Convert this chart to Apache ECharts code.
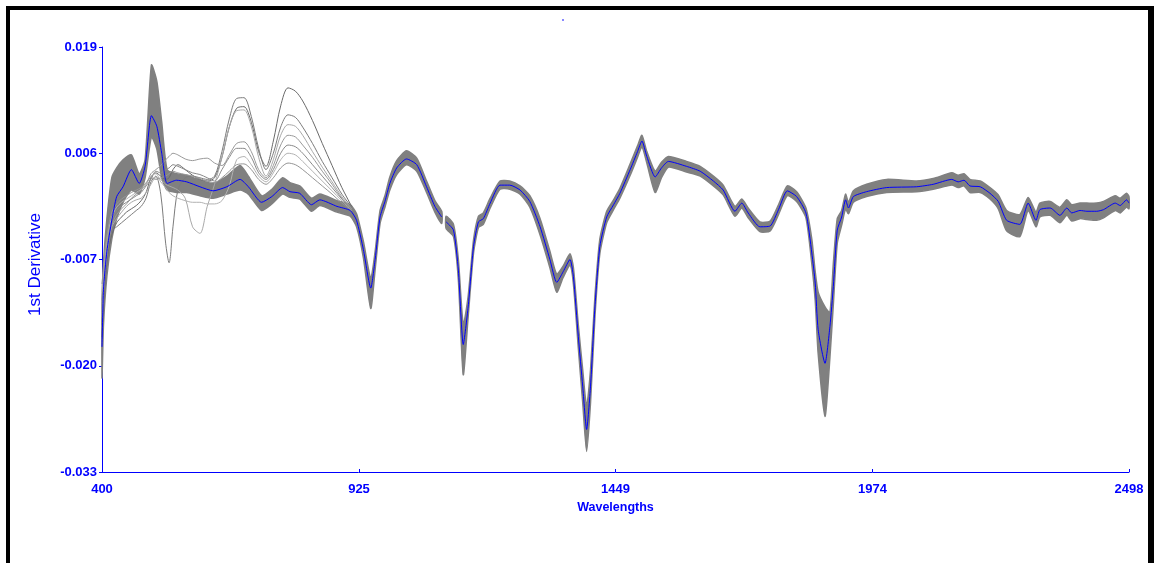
<!DOCTYPE html>
<html>
<head>
<meta charset="utf-8">
<script src="https://cdn.jsdelivr.net/npm/echarts@6/dist/echarts.min.js"></script>
<style>
html,body{margin:0;padding:0;background:#fff;}
#chart{width:1154px;height:563px;}
</style>
</head>
<body>
<div id="chart"></div>
<script>
// ---- data ----
const wavelengths = [
  400, 403, 410, 420, 430, 443, 460, 476, 488, 501,
  512, 522, 533, 552, 573, 600, 627, 655, 682, 699,
  726, 747, 769, 784, 804, 828, 845, 880, 907, 920,
  934, 949, 958, 968, 978, 988, 1002, 1022, 1043, 1063,
  1080, 1094, 1098, 1103, 1118, 1128, 1138, 1148, 1159, 1169,
  1179, 1193, 1213, 1233, 1254, 1274, 1295, 1315, 1329, 1342,
  1356, 1363, 1373, 1382, 1390, 1398, 1407, 1417, 1431, 1445,
  1458, 1479, 1494, 1503, 1513, 1530, 1543, 1557, 1594, 1622,
  1649, 1669, 1693, 1707, 1720, 1744, 1765, 1782, 1800, 1819,
  1838, 1850, 1857, 1863, 1877, 1887, 1894, 1902, 1911, 1919,
  1925, 1935, 1962, 2003, 2064, 2098, 2136, 2149, 2161, 2173,
  2194, 2214, 2231, 2248, 2275, 2292, 2308, 2316, 2337, 2357,
  2371, 2381, 2398, 2412, 2432, 2446, 2470, 2480, 2493, 2498
];
const meanSpectrum = [
  -0.0177, -0.0107, -0.0060, -0.0022, 0.0007, 0.0019, 0.0040, 0.0023, 0.0044, 0.0106,
  0.0093, 0.0060, 0.0023, 0.0027, 0.0025, 0.0019, 0.0014, 0.0019, 0.0028, 0.0019,
  0.0000, 0.0007, 0.0018, 0.0013, 0.0011, -0.0003, 0.0003, -0.0005, -0.0010, -0.0022,
  -0.0058, -0.0105, -0.0070, -0.0018, 0.0001, 0.0023, 0.0042, 0.0053, 0.0046, 0.0019,
  -0.0005, -0.0018, null, -0.0024, -0.0034, -0.0083, -0.0174, -0.0128, -0.0054, -0.0024,
  -0.0020, -0.0001, 0.0021, 0.0021, 0.0015, 0.0001, -0.0030, -0.0070, -0.0098, -0.0085,
  -0.0070, -0.0091, -0.0164, -0.0225, -0.0278, -0.0225, -0.0128, -0.0054, -0.0018, -0.0003,
  0.0011, 0.0040, 0.0062, 0.0075, 0.0056, 0.0031, 0.0042, 0.0050, 0.0044, 0.0038,
  0.0026, 0.0015, -0.0011, -0.0001, -0.0013, -0.0030, -0.0029, -0.0009, 0.0014, 0.0007,
  -0.0013, -0.0062, -0.0099, -0.0156, -0.0197, -0.0152, -0.0103, -0.0034, -0.0018, 0.0003,
  -0.0007, 0.0007, 0.0013, 0.0018, 0.0019, 0.0022, 0.0028, 0.0025, 0.0027, 0.0020,
  0.0019, 0.0011, 0.0001, -0.0022, -0.0027, -0.0001, -0.0022, -0.0009, -0.0007, -0.0016,
  -0.0007, -0.0013, -0.0010, -0.0011, -0.0011, -0.0009, -0.0001, -0.0004, 0.0003, -0.0001
];
const upperEnvelope = [
  -0.0125, -0.0075, -0.0020, 0.0030, 0.0042, 0.0052, 0.0058, 0.0035, 0.0052, 0.0168,
  0.0148, 0.0098, 0.0040, 0.0035, 0.0033, 0.0027, 0.0023, 0.0032, 0.0045, 0.0032,
  0.0008, 0.0016, 0.0030, 0.0024, 0.0020, 0.0005, 0.0010, 0.0002, -0.0003, -0.0014,
  -0.0048, -0.0093, -0.0060, -0.0010, 0.0008, 0.0031, 0.0051, 0.0063, 0.0054, 0.0026,
  0.0002, -0.0011, null, -0.0017, -0.0027, -0.0070, -0.0150, -0.0115, -0.0046, -0.0017,
  -0.0013, 0.0005, 0.0026, 0.0026, 0.0020, 0.0008, -0.0020, -0.0060, -0.0088, -0.0078,
  -0.0063, -0.0080, -0.0150, -0.0205, -0.0250, -0.0205, -0.0115, -0.0045, -0.0011, 0.0003,
  0.0017, 0.0047, 0.0069, 0.0082, 0.0062, 0.0038, 0.0049, 0.0056, 0.0050, 0.0044,
  0.0032, 0.0021, -0.0005, 0.0004, -0.0007, -0.0024, -0.0023, -0.0003, 0.0020, 0.0013,
  -0.0007, -0.0045, -0.0085, -0.0110, -0.0128, -0.0135, -0.0075, -0.0020, -0.0010, 0.0010,
  0.0000, 0.0014, 0.0022, 0.0028, 0.0026, 0.0029, 0.0036, 0.0033, 0.0035, 0.0028,
  0.0026, 0.0018, 0.0009, -0.0010, -0.0015, 0.0006, -0.0012, -0.0001, 0.0001, -0.0006,
  0.0003, -0.0003, -0.0001, -0.0001, -0.0001, 0.0001, 0.0008, 0.0005, 0.0011, 0.0007
];
const lowerEnvelope = [
  -0.0215, -0.0150, -0.0090, -0.0045, -0.0020, 0.0000, 0.0015, 0.0010, 0.0030, 0.0080,
  0.0065, 0.0030, 0.0015, 0.0012, 0.0012, 0.0008, 0.0005, 0.0010, 0.0015, 0.0010,
  -0.0010, -0.0002, 0.0010, 0.0006, 0.0004, -0.0011, -0.0004, -0.0012, -0.0017, -0.0030,
  -0.0068, -0.0130, -0.0082, -0.0026, -0.0006, 0.0015, 0.0034, 0.0046, 0.0038, 0.0012,
  -0.0012, -0.0026, null, -0.0032, -0.0042, -0.0095, -0.0211, -0.0140, -0.0062, -0.0031,
  -0.0027, -0.0007, 0.0016, 0.0016, 0.0010, -0.0006, -0.0040, -0.0080, -0.0110, -0.0092,
  -0.0077, -0.0100, -0.0178, -0.0245, -0.0305, -0.0245, -0.0140, -0.0063, -0.0025, -0.0009,
  0.0005, 0.0033, 0.0055, 0.0068, 0.0048, 0.0012, 0.0030, 0.0043, 0.0037, 0.0032,
  0.0020, 0.0009, -0.0017, -0.0007, -0.0019, -0.0036, -0.0035, -0.0015, 0.0008, 0.0001,
  -0.0019, -0.0075, -0.0120, -0.0185, -0.0262, -0.0190, -0.0125, -0.0050, -0.0028, -0.0008,
  -0.0014, 0.0000, 0.0007, 0.0012, 0.0013, 0.0016, 0.0021, 0.0018, 0.0020, 0.0012,
  0.0012, 0.0004, -0.0008, -0.0035, -0.0042, -0.0010, -0.0030, -0.0018, -0.0016, -0.0025,
  -0.0016, -0.0023, -0.0020, -0.0021, -0.0022, -0.0019, -0.0010, -0.0013, -0.0006, -0.0008
];

// divergent spectra in the visible range
const outlierWavelengths = [
  400, 406, 413, 420, 430, 440, 450, 460, 470, 480,
  490, 500, 510, 520, 530, 537, 545, 555, 570, 585,
  600, 615, 630, 645, 660, 675, 690, 705, 720, 735,
  750, 765, 780, 795, 810, 830, 850, 870, 890, 910
];
const outlier1 = [
  -0.0165, -0.0100, -0.0060, -0.0040, -0.0025, -0.0018, -0.0012, -0.0008, -0.0004, 0.0002,
  0.0012, 0.0030, 0.0036, 0.0032, 0.0028, 0.0030, 0.0040, 0.0046, 0.0040, 0.0033,
  0.0028, 0.0026, 0.0030, 0.0055, 0.0092, 0.0115, 0.0117, 0.0098, 0.0062, 0.0044,
  0.0075, 0.0118, 0.0140, 0.0136, 0.0124, 0.0100, 0.0072, 0.0045, 0.0018, -0.0005
];
const outlier2 = [
  -0.0150, -0.0090, -0.0055, -0.0035, -0.0030, -0.0025, -0.0020, -0.0015, -0.0010, -0.0005,
  0.0005, 0.0025, 0.0032, 0.0010, -0.0050, -0.0074, -0.0030, 0.0015, 0.0030, 0.0032,
  0.0030, 0.0028, 0.0032, 0.0062, 0.0102, 0.0127, 0.0128, 0.0105, 0.0066, 0.0040,
  0.0060, 0.0092, 0.0107, 0.0104, 0.0092, 0.0072, 0.0050, 0.0030, 0.0010, -0.0006
];
const outlier3 = [
  -0.0140, -0.0085, -0.0050, -0.0030, -0.0020, -0.0012, -0.0005, 0.0000, 0.0003, 0.0005,
  0.0012, 0.0022, 0.0030, 0.0028, 0.0022, 0.0020, 0.0018, 0.0015, 0.0005, -0.0030,
  -0.0038, -0.0005, 0.0022, 0.0055, 0.0092, 0.0112, 0.0113, 0.0093, 0.0055, 0.0032,
  0.0052, 0.0082, 0.0095, 0.0093, 0.0082, 0.0062, 0.0043, 0.0025, 0.0007, -0.0008
];
const outlier4 = [
  -0.0130, -0.0075, -0.0045, -0.0028, -0.0015, -0.0008, -0.0002, 0.0005, 0.0010, 0.0015,
  0.0022, 0.0035, 0.0040, 0.0045, 0.0052, 0.0056, 0.0060, 0.0058, 0.0053, 0.0051,
  0.0053, 0.0054, 0.0048, 0.0045, 0.0058, 0.0072, 0.0074, 0.0062, 0.0040, 0.0030,
  0.0045, 0.0070, 0.0082, 0.0080, 0.0070, 0.0055, 0.0038, 0.0022, 0.0005, -0.0008
];
const outlier5 = [
  -0.0120, -0.0070, -0.0040, -0.0022, -0.0010, -0.0004, 0.0000, 0.0004, 0.0008, 0.0012,
  0.0020, 0.0028, 0.0038, 0.0036, 0.0040, 0.0042, 0.0046, 0.0044, 0.0040, 0.0036,
  0.0034, 0.0030, 0.0026, 0.0040, 0.0055, 0.0066, 0.0066, 0.0055, 0.0036, 0.0028,
  0.0040, 0.0060, 0.0070, 0.0068, 0.0060, 0.0046, 0.0032, 0.0018, 0.0004, -0.0009
];
const outlier6 = [
  -0.0110, -0.0065, -0.0035, -0.0018, -0.0006, 0.0000, 0.0004, 0.0008, 0.0012, 0.0016,
  0.0022, 0.0032, 0.0035, 0.0025, 0.0018, 0.0012, 0.0008, 0.0005, 0.0002, 0.0000,
  0.0000, -0.0002, -0.0002, 0.0002, 0.0020, 0.0052, 0.0056, 0.0046, 0.0032, 0.0025,
  0.0036, 0.0052, 0.0060, 0.0058, 0.0050, 0.0038, 0.0026, 0.0014, 0.0002, -0.0010
];
const outlier7 = [
  -0.0100, -0.0060, -0.0030, -0.0012, -0.0002, 0.0004, 0.0008, 0.0012, 0.0015, 0.0018,
  0.0024, 0.0030, 0.0028, 0.0030, 0.0032, 0.0035, 0.0038, 0.0036, 0.0034, 0.0032,
  0.0029, 0.0026, 0.0024, 0.0030, 0.0038, 0.0046, 0.0047, 0.0040, 0.0028, 0.0022,
  0.0030, 0.0042, 0.0048, 0.0046, 0.0040, 0.0030, 0.0020, 0.0010, -0.0001, -0.0010
];
const outlierColors = ['#6a6a6a', '#7c7c7c', '#a9a9a9', '#9a9a9a', '#8a8a8a', '#b2b2b2', '#959595'];

const xTicks = [400, 925, 1449, 1974, 2498];
const yTicks = [-0.033, -0.020, -0.007, 0.006, 0.019];

// ---- build series ----
const BLUE = '#0000ff';
const GRAY = '#808080';
const pairs = (xs, ys) => xs.map((x, i) => [x, ys[i] == null ? null : ys[i]]);

// split the envelope into continuous segments (there is a detector gap near 1100 nm)
const bandSegments = [];
let cur = [];
wavelengths.forEach((w, i) => {
  if (upperEnvelope[i] == null || lowerEnvelope[i] == null) {
    if (cur.length) bandSegments.push(cur);
    cur = [];
  } else cur.push(i);
});
if (cur.length) bandSegments.push(cur);

const series = [];
series.push({
  name: 'spread', type: 'custom', coordinateSystem: 'cartesian2d', silent: true, z: 2,
  data: bandSegments.map(seg => [wavelengths[seg[0]], meanSpectrum[seg[0]]]),
  renderItem: (params, api) => {
    const seg = bandSegments[params.dataIndex];
    const top = seg.map(i => api.coord([wavelengths[i], upperEnvelope[i]]));
    const bot = seg.slice().reverse().map(i => api.coord([wavelengths[i], lowerEnvelope[i]]));
    return {
      type: 'polygon',
      shape: { points: top.concat(bot), smooth: 0.2 },
      style: { fill: GRAY, stroke: GRAY, lineWidth: 1.5 }
    };
  }
});
[outlier1, outlier2, outlier3, outlier4, outlier5, outlier6, outlier7].forEach((arr, k) => {
  series.push({
    name: 'outlier' + (k + 1), type: 'line', data: pairs(outlierWavelengths, arr),
    symbol: 'none', smooth: 0.3, lineStyle: { color: outlierColors[k], width: 1 },
    silent: true, z: 3
  });
});
series.push({
  name: 'mean', type: 'line', data: pairs(wavelengths, meanSpectrum),
  symbol: 'none', smooth: 0.2, connectNulls: false, lineStyle: { color: BLUE, width: 1 }, z: 5
});

const chart = echarts.init(document.getElementById('chart'), null, { renderer: 'canvas' });
chart.setOption({
  animation: false,
  backgroundColor: '#ffffff',
  grid: { left: 102, right: 25, top: 47, bottom: 91, containLabel: false },
  xAxis: {
    type: 'value', min: 400, max: 2498,
    name: 'Wavelengths', nameLocation: 'middle', nameGap: 24,
    nameTextStyle: { color: BLUE, fontFamily: 'Liberation Sans, Arial, sans-serif', fontWeight: 'bold', fontSize: 12.5 },
    axisLine: { show: true, onZero: false, lineStyle: { color: BLUE, width: 1 } },
    axisTick: { show: true, inside: true, length: 3, customValues: xTicks, lineStyle: { color: BLUE } },
    axisLabel: { customValues: xTicks, color: BLUE, fontFamily: 'Liberation Sans, Arial, sans-serif',
      fontWeight: 'bold', fontSize: 13, margin: 11, formatter: v => String(v) },
    splitLine: { show: false }
  },
  yAxis: {
    type: 'value', min: -0.033, max: 0.019,
    name: '1st Derivative', nameLocation: 'middle', nameGap: 58,
    nameTextStyle: { color: BLUE, fontFamily: 'Liberation Sans, Arial, sans-serif', fontSize: 17, padding: [0, 10, 0, 0] },
    axisLine: { show: true, onZero: false, lineStyle: { color: BLUE, width: 1 } },
    axisTick: { show: true, inside: false, length: 3, customValues: yTicks, lineStyle: { color: BLUE } },
    axisLabel: { customValues: yTicks, color: BLUE, fontFamily: 'Liberation Sans, Arial, sans-serif',
      fontWeight: 'bold', fontSize: 13, margin: 5, formatter: v => v.toFixed(3) },
    splitLine: { show: false }
  },
  graphic: [
    { type: 'rect', shape: { x: 6, y: 6, width: 1148, height: 4 }, style: { fill: '#000' }, silent: true },
    { type: 'rect', shape: { x: 6, y: 6, width: 4, height: 557 }, style: { fill: '#000' }, silent: true },
    { type: 'rect', shape: { x: 1148, y: 6, width: 6, height: 557 }, style: { fill: '#000' }, silent: true },
    { type: 'rect', shape: { x: 562, y: 19, width: 2, height: 2 }, style: { fill: '#8888ff' }, silent: true }
  ],
  series: series
});
</script>
</body>
</html>
